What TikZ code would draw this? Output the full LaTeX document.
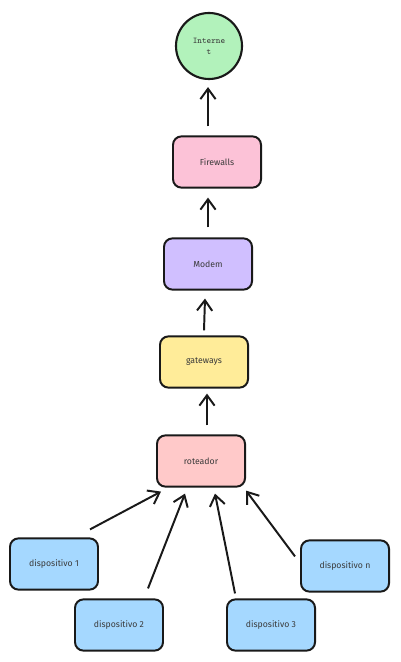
\documentclass[tikz,border=0pt]{standalone}
\usepackage{fontspec}
\setmainfont{Fira Sans}
\usetikzlibrary{arrows.meta,calc}
\definecolor{netgreen}{HTML}{B2F2BB}
\definecolor{fwpink}{HTML}{FCC2D7}
\definecolor{modemviolet}{HTML}{D0BFFF}
\definecolor{gwyellow}{HTML}{FFEC99}
\definecolor{routerred}{HTML}{FFC9C9}
\definecolor{devblue}{HTML}{A5D8FF}
\definecolor{inkgray}{HTML}{3A3A3A}
\begin{document}
\begin{tikzpicture}[
x=0.025cm, y=-0.025cm,
box/.style={rectangle, rounded corners=6pt, draw=black!90, line width=1.4pt, minimum width=2.2cm, minimum height=1.28cm, text=inkgray, font=\fontsize{6.2}{7.2}\selectfont},
cloud/.style={circle, draw=black!90, line width=1.5pt, fill=netgreen, minimum size=1.65cm, inner sep=0pt, text=inkgray, align=center, font=\ttfamily\fontsize{6.2}{8}\selectfont},
link/.style={draw=black!90, line width=1.4pt, -{Straight Barb[length=2.6mm,width=3.8mm,line width=1.4pt]}},
]
\useasboundingbox (0,0) rectangle (400,662);
%Internet
\node[cloud] (internet) at (209,46) {Interne\\t};
%Chain
\node[box, fill=fwpink] (firewalls) at (217,162) {Firewalls};
\node[box, fill=modemviolet] (modem) at (208,264) {Modem};
\node[box, fill=gwyellow] (gateways) at (204,362) {gateways};
\node[box, fill=routerred] (roteador) at (201,461) {roteador};
%Devices
\node[box, fill=devblue] (disp1) at (54,564) {dispositivo 1};
\node[box, fill=devblue] (disp2) at (119,625) {dispositivo 2};
\node[box, fill=devblue] (disp3) at (271,625) {dispositivo 3};
\node[box, fill=devblue] (dispn) at (345,566) {dispositivo n};

%Connections chain
\draw[link] ($(firewalls.north)+(-9,-9)$) -- ($(internet.south)+(-1,7)$);
\draw[link] ($(modem.north)+(0,-10)$) -- ($(firewalls.south)+(-9,9)$);
\draw[link] ($(gateways.north)+(0,-5)$) -- ($(modem.south)+(-3,8)$);
\draw[link] ($(roteador.north)+(6,-9)$) -- ($(gateways.south)+(3,5)$);

%Connections devices -- roteador
\draw[link] ($(disp1.north east)+(-9,-8)$) -- ($(roteador.south west)+(5,4)$);
\draw[link] ($(disp2.north east)+(-16,-10)$) -- ($(roteador.south)+(-16,6)$);
\draw[link] ($(disp3.north west)+(9,-5)$) -- ($(roteador.south)+(14,6)$);
\draw[link] ($(dispn.north west)+(-5,17)$) -- ($(roteador.south east)+(0,3)$);
\end{tikzpicture}
\end{document}
